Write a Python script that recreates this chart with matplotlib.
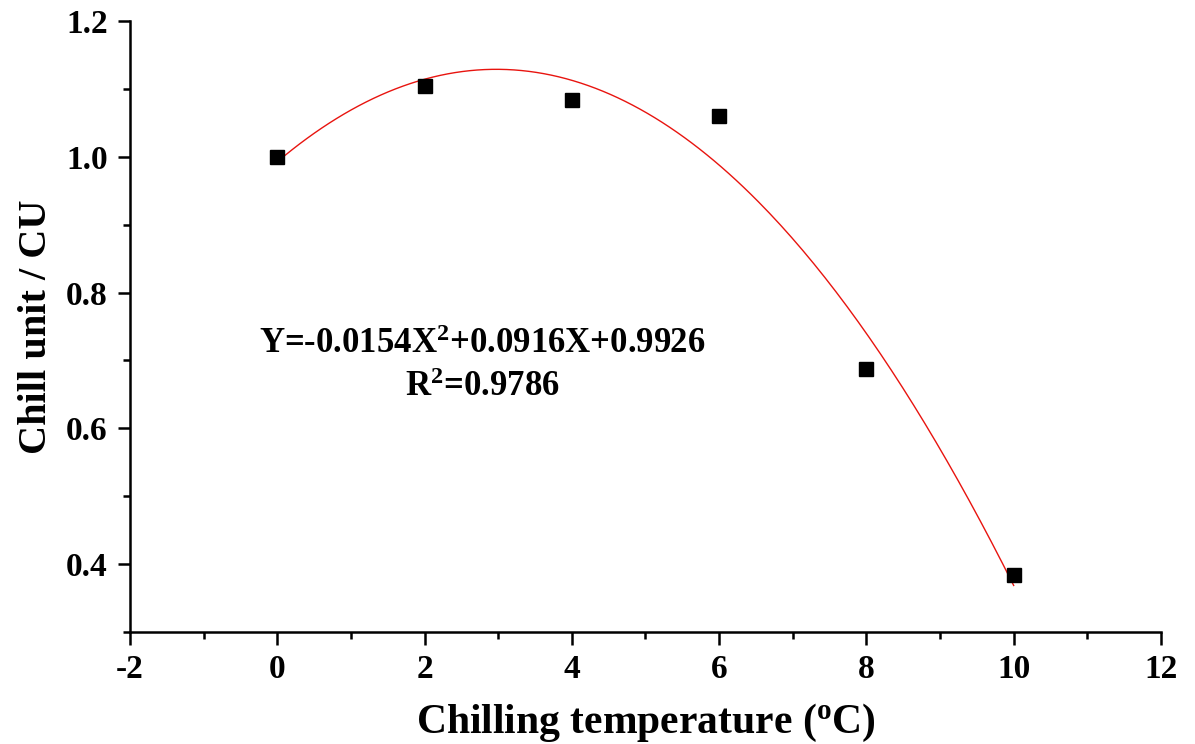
import numpy as np
import matplotlib
matplotlib.use("Agg")
import matplotlib.pyplot as plt
from matplotlib.ticker import MultipleLocator

# data
temps = [0, 2, 4, 6, 8, 10]
chill_units = [1.0, 1.104, 1.084, 1.060, 0.688, 0.384]

# fitted quadratic (coefficients as printed on the chart)
fit_coef = [-0.0154, 0.0916, 0.9926]
r_squared = 0.9786

plt.rcParams['font.family'] = ['Liberation Serif', 'DejaVu Serif']
plt.rcParams['font.weight'] = 'bold'
plt.rcParams['axes.unicode_minus'] = False
plt.rcParams['mathtext.fontset'] = 'custom'
plt.rcParams['mathtext.rm'] = 'Liberation Serif:bold'
plt.rcParams['mathtext.it'] = 'Liberation Serif:bold'
plt.rcParams['mathtext.bf'] = 'Liberation Serif:bold'

fig = plt.figure(figsize=(11.95, 7.44), dpi=100)
ax = fig.add_axes([0.1088, 0.1505, 0.8627, 0.8213])

# fit curve
xs = np.linspace(temps[0], temps[-1], 200)
ax.plot(xs, np.polyval(fit_coef, xs), color='#e8140f', lw=1.0, zorder=2)

# measured points
ax.plot(temps, chill_units, 's', color='black', markersize=10.5, zorder=3)

ax.set_xlim(-2, 12)
ax.set_ylim(0.3, 1.2)
ax.xaxis.set_major_locator(MultipleLocator(2))
ax.xaxis.set_minor_locator(MultipleLocator(1))
ax.yaxis.set_minor_locator(MultipleLocator(0.1))
ax.set_yticks([0.4, 0.6, 0.8, 1.0, 1.2])
ax.set_yticklabels(['0.4', '0.6', '0.8', '1.0', '1.2'])

for s in ['top', 'right']:
    ax.spines[s].set_visible(False)
for s in ['left', 'bottom']:
    ax.spines[s].set_linewidth(1.8)

ax.tick_params(which='major', direction='out', length=9, width=1.8, labelsize=24, pad=7)
ax.tick_params(which='minor', direction='out', length=5, width=1.8)
for lab in ax.get_xticklabels() + ax.get_yticklabels():
    lab.set_fontweight('bold')

ax.set_xlabel('Chilling temperature ($^{o}$C)', fontsize=30, fontweight='bold', labelpad=12)
ax.set_ylabel('Chill unit / CU', fontsize=29, fontweight='bold', labelpad=8)

eq = 'Y=-0.0154X$^{2}$+0.0916X+0.9926'
ax.text(2.78, 0.7235, eq, fontsize=25, fontweight='bold', ha='center', va='center')
ax.text(2.78, 0.66, 'R$^{2}$=%.4f' % r_squared, fontsize=25, fontweight='bold',
        ha='center', va='center')

fig.savefig('out.png', dpi=100)
